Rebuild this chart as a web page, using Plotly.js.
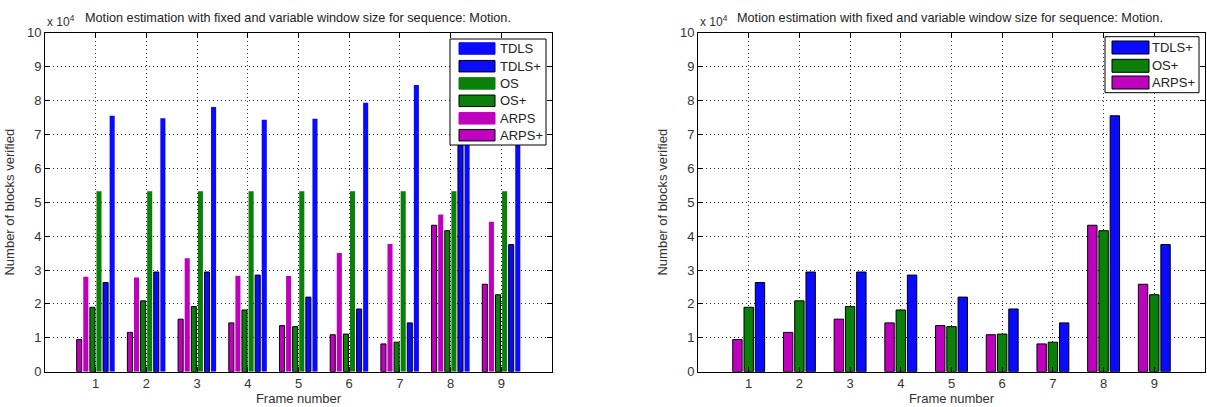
<!DOCTYPE html>
<html>
<head>
<meta charset="utf-8">
<script src="https://cdn.plot.ly/plotly-3.0.1.min.js"></script>
<style>
  html, body { margin: 0; padding: 0; background: #fff; }
  #chart { width: 1207px; height: 407px; }
</style>
</head>
<body>
<div id="chart"></div>
<script>
// ---------- data ----------
const frames = [1, 2, 3, 4, 5, 6, 7, 8, 9];
const frameLabels = ['1', '2', '3', '4', '5', '6', '7', '8', '9'];
const arpsPlus = [9500, 11600, 15500, 14400, 13600, 10900, 8200, 43200, 25800];
const arps     = [28000, 27800, 33500, 28300, 28200, 35000, 37700, 46400, 44200];
const osPlus   = [19000, 20900, 19200, 18200, 13300, 11100, 8700, 41600, 22700];
const os       = [53200, 53200, 53200, 53200, 53200, 53200, 53200, 53200, 53200];
const tdlsPlus = [26300, 29400, 29400, 28500, 22000, 18500, 14400, 75500, 37500];
const tdls     = [75500, 74800, 78100, 74300, 74600, 79300, 84600, 89000, 75000];
const yTickVals = [0, 10000, 20000, 30000, 40000, 50000, 60000, 70000, 80000, 90000, 100000];
const yTickText = ['0', '1', '2', '3', '4', '5', '6', '7', '8', '9', '10'];
const chartTitle = 'Motion estimation with fixed and variable window size for sequence: Motion.';
const xTitle = 'Frame number';
const yTitle = 'Number of blocks verified';
const leftLegend = ['TDLS', 'TDLS+', 'OS', 'OS+', 'ARPS', 'ARPS+'];
const rightLegend = ['TDLS+', 'OS+', 'ARPS+'];

// ---------- style ----------
const FONT = 'Liberation Sans, Arial, sans-serif';
const BLUE = '#0a0aff', GREEN = '#0a7f0a', MAG = '#bf00bf';
const colorOf = {'TDLS': BLUE, 'TDLS+': BLUE, 'OS': GREEN, 'OS+': GREEN, 'ARPS': MAG, 'ARPS+': MAG};
const W = 1207, H = 407;
const px = v => v / W;
const py = v => 1 - v / H;

function bar(name, y, color, center, width, edge, xa, ya) {
  return {
    type: 'bar', name: name, x: frames, y: y,
    xaxis: xa, yaxis: ya,
    width: width, offset: center - width / 2,
    marker: {color: color, line: {color: edge ? '#000' : color, width: edge ? 1 : 0}},
    showlegend: false, hoverinfo: 'x+y+name'
  };
}

const wL = 0.1, wR = 0.185;
const traces = [
  bar('ARPS+', arpsPlus, MAG, -0.325, wL, true, 'x', 'y'),
  bar('ARPS', arps, MAG, -0.195, wL, false, 'x', 'y'),
  bar('OS+', osPlus, GREEN, -0.065, wL, true, 'x', 'y'),
  bar('OS', os, GREEN, 0.065, wL, false, 'x', 'y'),
  bar('TDLS+', tdlsPlus, BLUE, 0.195, wL, true, 'x', 'y'),
  bar('TDLS', tdls, BLUE, 0.325, wL, false, 'x', 'y'),
  bar('ARPS+', arpsPlus, MAG, -0.222, wR, true, 'x2', 'y2'),
  bar('OS+', osPlus, GREEN, 0, wR, true, 'x2', 'y2'),
  bar('TDLS+', tdlsPlus, BLUE, 0.222, wR, true, 'x2', 'y2')
];

const gridCommon = {
  showgrid: true, gridcolor: '#222', griddash: '1px,3px', gridwidth: 1,
  zeroline: false, showline: true, linecolor: '#000', linewidth: 1, mirror: 'ticks',
  ticks: 'inside', ticklen: 5, tickcolor: '#000',
  tickfont: {family: FONT, size: 13, color: '#333'}
};
const xCommon = Object.assign({}, gridCommon, {
  range: [0, 10], tickmode: 'array', tickvals: frames, ticktext: frameLabels,
  title: {text: xTitle, font: {family: FONT, size: 13, color: '#333'}, standoff: 0}
});
const yCommon = Object.assign({}, gridCommon, {
  range: [0, 100000], tickmode: 'array', tickvals: yTickVals, ticktext: yTickText,
  title: {text: yTitle, font: {family: FONT, size: 13, color: '#333'}, standoff: 9}
});

const yDom = [1 - 371.7 / H, 1 - 32.7 / H];
const layout = {
  width: W, height: H,
  margin: {l: 0, r: 0, t: 0, b: 0},
  paper_bgcolor: '#fff', plot_bgcolor: '#fff',
  barmode: 'overlay', showlegend: false,
  xaxis: Object.assign({}, xCommon, {domain: [px(45), px(552)], anchor: 'y'}),
  yaxis: Object.assign({}, yCommon, {domain: yDom, anchor: 'x'}),
  xaxis2: Object.assign({}, xCommon, {domain: [px(698), px(1205)], anchor: 'y2'}),
  yaxis2: Object.assign({}, yCommon, {domain: yDom, anchor: 'x2'}),
  shapes: [], annotations: []
};

// titles and exponent labels
[[297.5, 45], [950, 698]].forEach(([cx, lx]) => {
  layout.annotations.push({
    xref: 'paper', yref: 'paper', x: px(cx), y: py(18), xanchor: 'center', yanchor: 'middle',
    text: chartTitle, showarrow: false, font: {family: FONT, size: 12.7, color: '#222'}
  });
  layout.annotations.push({
    xref: 'paper', yref: 'paper', x: px(lx), y: py(21), xanchor: 'left', yanchor: 'middle',
    text: 'x 10<sup>4</sup>', showarrow: false, font: {family: FONT, size: 12, color: '#333'}
  });
});

// custom legends (opaque, drawn above bars)
function legendBox(names, box, swX, centers, swH, textX) {
  layout.shapes.push({type: 'rect', xref: 'paper', yref: 'paper', layer: 'above',
    x0: px(box[0]), x1: px(box[1]), y0: py(box[3]), y1: py(box[2]),
    fillcolor: '#fff', line: {color: '#000', width: 1}});
  names.forEach((n, i) => {
    const plus = n.endsWith('+');
    layout.shapes.push({type: 'rect', xref: 'paper', yref: 'paper', layer: 'above',
      x0: px(swX[0]), x1: px(swX[1]), y0: py(centers[i] + swH / 2), y1: py(centers[i] - swH / 2),
      fillcolor: colorOf[n], line: {color: plus ? '#000' : colorOf[n], width: 1}});
    layout.annotations.push({xref: 'paper', yref: 'paper', x: px(textX), y: py(centers[i]),
      xanchor: 'left', yanchor: 'middle', text: n, showarrow: false,
      font: {family: FONT, size: 13, color: '#222'}});
  });
}
legendBox(leftLegend, [450, 546, 39, 145], [459, 495], [48.5, 66.2, 83.4, 100.8, 118.3, 135.2], 11.5, 498);
legendBox(rightLegend, [1105, 1199, 36.7, 92.7], [1112, 1149], [47.5, 65.8, 82.5], 13, 1150);

Plotly.newPlot('chart', traces, layout, {displayModeBar: false, staticPlot: true});
</script>
</body>
</html>
